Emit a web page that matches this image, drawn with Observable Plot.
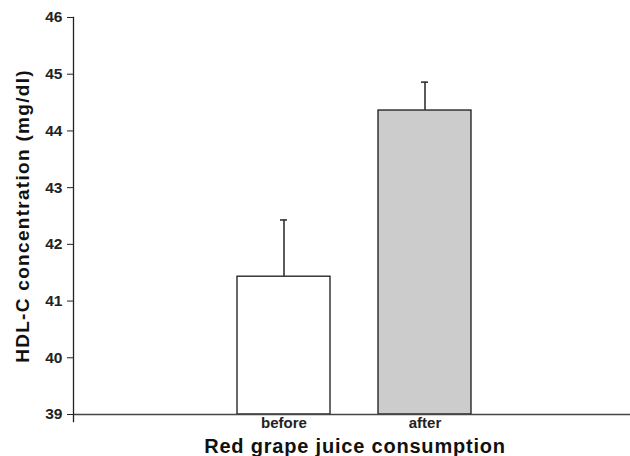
<!DOCTYPE html>
<html>
<head>
<meta charset="utf-8">
<script src="https://cdn.jsdelivr.net/npm/d3@7"></script>
<script src="https://cdn.jsdelivr.net/npm/@observablehq/plot@0.6"></script>
<style>
  html, body { margin: 0; padding: 0; background: #fff; }
  #chart { position: relative; width: 630px; height: 456px; }
  svg { font-family: "Liberation Sans", Arial, sans-serif; }
</style>
</head>
<body>
<div id="chart"></div>
<script>
const categories = ["before", "after"];
const means = [41.43, 44.36];
const upperErrors = [42.43, 44.86];
const fills = ["#ffffff", "#cccccc"];
const yTicks = [39, 40, 41, 42, 43, 44, 45, 46];
const xTitle = "Red grape juice consumption";
const yTitle = "HDL-C concentration (mg/dl)";

const data = categories.map((c, i) => ({cat: c, mean: means[i], upper: upperErrors[i], fill: fills[i]}));

const chart = Plot.plot({
  width: 630,
  height: 456,
  marginLeft: 73,
  marginRight: 0,
  marginTop: 17,
  marginBottom: 42,
  style: {fontFamily: '"Liberation Sans", Arial, sans-serif', background: "#fff"},
  x: {domain: categories, paddingInner: 0.34, paddingOuter: 1.145, align: 0.507, label: null},
  y: {domain: [39, 46], label: null},
  marks: [
    Plot.barY(data, {x: "cat", y1: 39, y2: "mean", fill: "fill", stroke: "#1a1a1a", strokeWidth: 1.3}),
    Plot.ruleX(data, {x: "cat", y1: "mean", y2: "upper", stroke: "#333", strokeWidth: 1.6}),
    Plot.tickY(data, {x: "cat", y: "upper", stroke: "#333", strokeWidth: 1.6, insetLeft: 43, insetRight: 43}),
    Plot.ruleY([39], {stroke: "#444", strokeWidth: 1.5}),
    Plot.frame({anchor: "left", stroke: "#222", strokeWidth: 1.3, insetBottom: -7}),
    Plot.axisY({ticks: yTicks, tickFormat: "d", tickSize: 6, tickPadding: 5, stroke: "#222", fontSize: 15.5, fontWeight: "bold", fill: "#222", label: null}),
    Plot.axisX({tickSize: 0, tickPadding: 3, fontSize: 15, fontWeight: "bold", fill: "#222", label: null}),
    Plot.text([xTitle], {frameAnchor: "bottom", dy: 38, dx: 3, fontSize: 20, fontWeight: "bold", fill: "#111"}),
    Plot.text([yTitle], {frameAnchor: "left", textAnchor: "middle", dx: -51, rotate: -90, fontSize: 19, fontWeight: "bold", fill: "#111"})
  ]
});
document.getElementById("chart").appendChild(chart);
chart.querySelectorAll("text").forEach(t => {
  if (t.textContent === xTitle) t.style.letterSpacing = "0.8px";
  if (t.textContent === yTitle) t.style.letterSpacing = "1.3px";
});
</script>
</body>
</html>
